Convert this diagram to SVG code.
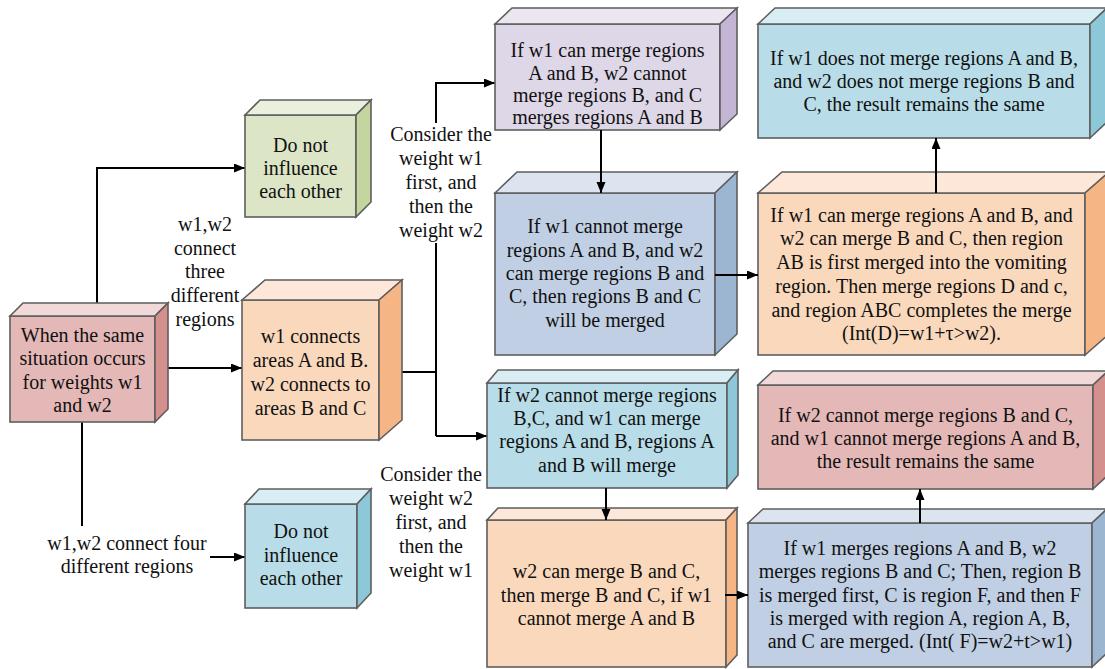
<svg xmlns="http://www.w3.org/2000/svg" width="1105" height="669" viewBox="0 0 1105 669">
  <defs>
    <marker id="arrow" markerUnits="userSpaceOnUse" markerWidth="12" markerHeight="10" refX="11" refY="4.5" orient="auto">
      <path d="M0,0 L11,4.5 L0,9 Z" fill="#000"/>
    </marker>
    <style>
      .box path, .box rect { stroke: #5e5e5e; stroke-width: 1.6; stroke-linejoin: miter; }
      .pink .f { fill: #E4B8B7; } .pink .t { fill: #F0D9D8; } .pink .s { fill: #D4908D; }
      .green .f { fill: #DCE6C6; } .green .t { fill: #EAF0DD; } .green .s { fill: #C4D5A0; }
      .orange .f { fill: #FAD8BC; } .orange .t { fill: #FDE7D8; } .orange .s { fill: #F6B585; }
      .cyan .f { fill: #B8DDE8; } .cyan .t { fill: #D8EEF4; } .cyan .s { fill: #8DC8D9; }
      .purple .f { fill: #DED7E7; } .purple .t { fill: #EBE6F0; } .purple .s { fill: #C4B5D4; }
      .steel .f { fill: #C0CFE3; } .steel .t { fill: #DCE4EF; } .steel .s { fill: #9CB5D1; }
      .wire { fill: none; stroke: #000; stroke-width: 2; }
      .arr { marker-end: url(#arrow); }
      .mask { fill: #fff; stroke: none; }
    </style>
  </defs>
  <rect width="1105" height="669" fill="#fff"/>

  <!-- connectors -->
  <g id="connectors">
    <path class="wire arr" d="M97,303 L97,168 L245,168"/>
    <path class="wire arr" d="M168,368 L242,368"/>
    <path class="wire arr" d="M82,422 L82,557 L245,557"/>
    <path class="wire" d="M402,372 L436,372"/>
    <path class="wire arr" d="M436,436 L436,83 L495,83"/>
    <path class="wire arr" d="M436,436 L487,436"/>
  </g>

  <!-- edge labels -->
  <g id="labels">
    <rect class="mask" x="388" y="123" width="104" height="120"/>
    <rect class="mask" x="44" y="526" width="166" height="52"/>
    <g font-family="Liberation Serif" font-size="20" text-anchor="middle" fill="#111">
      <text x="205" y="231">w1,w2</text>
      <text x="205" y="255">connect</text>
      <text x="205" y="278">three</text>
      <text x="205" y="302">different</text>
      <text x="205" y="326">regions</text>

      <text x="441" y="141">Consider the</text>
      <text x="441" y="165">weight w1</text>
      <text x="441" y="189">first, and</text>
      <text x="441" y="213">then the</text>
      <text x="441" y="237">weight w2</text>

      <text x="431" y="481">Consider the</text>
      <text x="431" y="505">weight w2</text>
      <text x="431" y="529">first, and</text>
      <text x="431" y="553">then the</text>
      <text x="431" y="577">weight w1</text>

      <text x="127" y="550">w1,w2 connect four</text>
      <text x="127" y="573">different regions</text>
    </g>
  </g>

  <g id="n-start" class="box pink">
    <rect class="f" x="10" y="316" width="145" height="106"/>
    <path class="t" d="M10,316 L23,303 L168,303 L155,316Z"/>
    <path class="s" d="M155,316 L168,303 L168,409 L155,422Z"/>
    <g font-family="Liberation Serif" font-size="20" text-anchor="middle" fill="#111">
      <text x="82.5" y="342">When the same</text>
      <text x="82.5" y="365">situation occurs</text>
      <text x="82.5" y="389">for weights w1</text>
      <text x="82.5" y="412">and w2</text>
    </g>
  </g>

  <g id="n-independent-top" class="box green">
    <rect class="f" x="245" y="115" width="111" height="102"/>
    <path class="t" d="M245,115 L260,100 L371,100 L356,115Z"/>
    <path class="s" d="M356,115 L371,100 L371,202 L356,217Z"/>
    <g font-family="Liberation Serif" font-size="20" text-anchor="middle" fill="#111">
      <text x="300.5" y="152">Do not</text>
      <text x="300.5" y="175">influence</text>
      <text x="300.5" y="198">each other</text>
    </g>
  </g>

  <g id="n-connects" class="box orange">
    <rect class="f" x="242" y="300" width="137" height="140"/>
    <path class="t" d="M242,300 L265,280 L402,280 L379,300Z"/>
    <path class="s" d="M379,300 L402,280 L402,420 L379,440Z"/>
    <g font-family="Liberation Serif" font-size="20" text-anchor="middle" fill="#111">
      <text x="310.5" y="343">w1 connects</text>
      <text x="310.5" y="367">areas A and B.</text>
      <text x="310.5" y="391">w2 connects to</text>
      <text x="310.5" y="415">areas B and C</text>
    </g>
  </g>

  <g id="n-independent-bottom" class="box cyan">
    <rect class="f" x="245" y="504" width="112" height="104"/>
    <path class="t" d="M245,504 L259,489 L371,489 L357,504Z"/>
    <path class="s" d="M357,504 L371,489 L371,593 L357,608Z"/>
    <g font-family="Liberation Serif" font-size="20" text-anchor="middle" fill="#111">
      <text x="301" y="538">Do not</text>
      <text x="301" y="562">influence</text>
      <text x="301" y="585">each other</text>
    </g>
  </g>

  <g id="n-w1-first" class="box purple">
    <rect class="f" x="495" y="24" width="225" height="106"/>
    <path class="t" d="M495,24 L512,8 L737,8 L720,24Z"/>
    <path class="s" d="M720,24 L737,8 L737,114 L720,130Z"/>
    <g font-family="Liberation Serif" font-size="20" text-anchor="middle" fill="#111">
      <text x="607.5" y="57">If w1 can merge regions</text>
      <text x="607.5" y="80">A and B, w2 cannot</text>
      <text x="607.5" y="102">merge regions B, and C</text>
      <text x="607.5" y="124">merges regions A and B</text>
    </g>
  </g>

  <g id="n-w1-cannot" class="box steel">
    <rect class="f" x="495" y="193" width="220" height="162"/>
    <path class="t" d="M495,193 L517,172 L737,172 L715,193Z"/>
    <path class="s" d="M715,193 L737,172 L737,334 L715,355Z"/>
    <g font-family="Liberation Serif" font-size="20" text-anchor="middle" fill="#111">
      <text x="605" y="233">If w1 cannot merge</text>
      <text x="605" y="257">regions A and B, and w2</text>
      <text x="605" y="280">can merge regions B and</text>
      <text x="605" y="303">C, then regions B and C</text>
      <text x="605" y="327">will be merged</text>
    </g>
  </g>

  <g id="n-same-1" class="box cyan">
    <rect class="f" x="758" y="24" width="332" height="114"/>
    <path class="t" d="M758,24 L775,8 L1107,8 L1090,24Z"/>
    <path class="s" d="M1090,24 L1107,8 L1107,122 L1090,138Z"/>
    <g font-family="Liberation Serif" font-size="20" text-anchor="middle" fill="#111">
      <text x="924" y="65">If w1 does not merge regions A and B,</text>
      <text x="924" y="88">and w2 does not merge regions B and</text>
      <text x="924" y="111">C, the result remains the same</text>
    </g>
  </g>

  <g id="n-merge-abc" class="box orange">
    <rect class="f" x="758" y="193" width="327" height="162"/>
    <path class="t" d="M758,193 L782,172 L1109,172 L1085,193Z"/>
    <path class="s" d="M1085,193 L1109,172 L1109,334 L1085,355Z"/>
    <g font-family="Liberation Serif" font-size="20" text-anchor="middle" fill="#111">
      <text x="921.5" y="222">If w1 can merge regions A and B, and</text>
      <text x="921.5" y="245">w2 can merge B and C, then region</text>
      <text x="921.5" y="269">AB is first merged into the vomiting</text>
      <text x="921.5" y="293">region. Then merge regions D and c,</text>
      <text x="921.5" y="317">and region ABC completes the merge</text>
      <text x="921.5" y="340">(Int(D)=w1+τ&gt;w2).</text>
    </g>
  </g>

  <g id="n-w2-first" class="box cyan">
    <rect class="f" x="487" y="383" width="240" height="105"/>
    <path class="t" d="M487,383 L498,370 L738,370 L727,383Z"/>
    <path class="s" d="M727,383 L738,370 L738,475 L727,488Z"/>
    <g font-family="Liberation Serif" font-size="20" text-anchor="middle" fill="#111">
      <text x="607" y="402">If w2 cannot merge regions</text>
      <text x="607" y="425">B,C, and w1 can merge</text>
      <text x="607" y="448">regions A and B, regions A</text>
      <text x="607" y="472">and B will merge</text>
    </g>
  </g>

  <g id="n-w2-can" class="box orange">
    <rect class="f" x="487" y="520" width="239" height="147"/>
    <path class="t" d="M487,520 L498,508 L737,508 L726,520Z"/>
    <path class="s" d="M726,520 L737,508 L737,655 L726,667Z"/>
    <g font-family="Liberation Serif" font-size="20" text-anchor="middle" fill="#111">
      <text x="606.5" y="578">w2 can merge B and C,</text>
      <text x="606.5" y="602">then merge B and C, if w1</text>
      <text x="606.5" y="625">cannot merge A and B</text>
    </g>
  </g>

  <g id="n-same-2" class="box pink">
    <rect class="f" x="758" y="385" width="335" height="104"/>
    <path class="t" d="M758,385 L773,371 L1108,371 L1093,385Z"/>
    <path class="s" d="M1093,385 L1108,371 L1108,475 L1093,489Z"/>
    <g font-family="Liberation Serif" font-size="20" text-anchor="middle" fill="#111">
      <text x="925.5" y="422">If w2 cannot merge regions B and C,</text>
      <text x="925.5" y="445">and w1 cannot merge regions A and B,</text>
      <text x="925.5" y="468">the result remains the same</text>
    </g>
  </g>

  <g id="n-merge-f" class="box steel">
    <rect class="f" x="748" y="523" width="344" height="144"/>
    <path class="t" d="M748,523 L763,509 L1107,509 L1092,523Z"/>
    <path class="s" d="M1092,523 L1107,509 L1107,653 L1092,667Z"/>
    <g font-family="Liberation Serif" font-size="20" text-anchor="middle" fill="#111">
      <text x="920" y="555">If w1 merges regions A and B, w2</text>
      <text x="920" y="578">merges regions B and C; Then, region B</text>
      <text x="920" y="602">is merged first, C is region F, and then F</text>
      <text x="920" y="625">is merged with region A, region A, B,</text>
      <text x="920" y="648">and C are merged. (Int( F)=w2+t&gt;w1)</text>
    </g>
  </g>

  <!-- connectors drawn across box faces -->
  <g id="connectors-front">
    <path class="wire arr" d="M601,130 L601,193"/>
    <path class="wire arr" d="M606,488 L606,520"/>
    <path class="wire arr" d="M715,275 L758,275"/>
    <path class="wire arr" d="M936,193 L936,138"/>
    <path class="wire arr" d="M725,595 L748,595"/>
    <path class="wire arr" d="M920,523 L920,489"/>
  </g>
</svg>
